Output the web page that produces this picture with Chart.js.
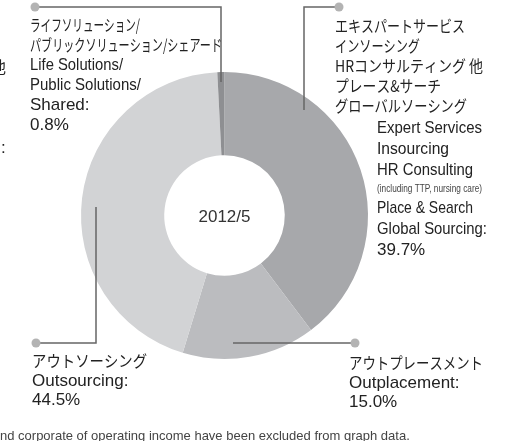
<!DOCTYPE html>
<html>
<head>
<meta charset="utf-8">
<script src="https://cdn.jsdelivr.net/npm/chart.js@4"></script>
<style>
  html, body { margin: 0; padding: 0; background: #fff; }
  #wrap { width: 506px; height: 441px; }
</style>
</head>
<body>
<div id="wrap"><canvas id="chart" width="506" height="441"></canvas></div>
<script>
// dữ liệu biểu đồ (theo chiều kim đồng hồ từ 12 giờ)
const categories = ["Expert Services", "Outplacement", "Outsourcing", "Life Solutions/Public Solutions/Shared"];
const shares = [39.7, 15.0, 44.5, 0.8];
const sliceColors = ["#a7a8ab", "#bbbcbf", "#d2d3d5", "#8e8f92"];
const centerLabel = "2012/5";

const jpExpert = ["エキスパートサービス", "インソーシング", "HRコンサルティング 他", "プレース&サーチ", "グローバルソーシング"];
const enExpert = ["Expert Services", "Insourcing", "HR Consulting", "(including TTP, nursing care)", "Place & Search", "Global Sourcing:"];
const jpLife = ["ライフソリューション/", "パブリックソリューション/シェアード"];
const enLife = ["Life Solutions/", "Public Solutions/", "Shared:"];
const jpOutsourcing = ["アウトソーシング"];
const enOutsourcing = ["Outsourcing:"];
const jpOutplacement = ["アウトプレースメント"];
const enOutplacement = ["Outplacement:"];
const footnote = "nd corporate of operating income have been excluded from graph data.";

const JP = "16px 'Noto Sans CJK JP'";
const EN = "17px 'Liberation Sans', Arial, sans-serif";
const EN_SMALL = "10px 'Liberation Sans', Arial, sans-serif";

function pct(i) {
  return shares[i].toFixed(1) + "%";
}

function txt(ctx, s, x, y, font, maxW, color) {
  ctx.font = font;
  ctx.fillStyle = color || "#222";
  ctx.textAlign = "left";
  ctx.textBaseline = "middle";
  if (maxW) ctx.fillText(s, x, y, maxW);
  else ctx.fillText(s, x, y);
}

function dot(ctx, x, y) {
  ctx.beginPath();
  ctx.arc(x, y, 4.5, 0, Math.PI * 2);
  ctx.fillStyle = "#b3b3b3";
  ctx.fill();
}

function line(ctx, pts) {
  ctx.beginPath();
  ctx.moveTo(pts[0][0], pts[0][1]);
  for (let i = 1; i < pts.length; i++) ctx.lineTo(pts[i][0], pts[i][1]);
  ctx.strokeStyle = "#666";
  ctx.lineWidth = 1.5;
  ctx.stroke();
}

// plugin vẽ đường dẫn + nhãn
const labelPlugin = {
  id: "labels",
  afterDraw(chart) {
    const ctx = chart.ctx;
    const arc = chart.getDatasetMeta(0).data[0];
    ctx.save();

    // chữ ở giữa
    ctx.font = "17px 'Liberation Sans', Arial, sans-serif";
    ctx.fillStyle = "#333";
    ctx.textAlign = "center";
    ctx.textBaseline = "middle";
    ctx.fillText(centerLabel, arc.x, arc.y + 2);

    // đường dẫn
    line(ctx, [[35, 7], [221, 7], [221, 82]]);
    line(ctx, [[339, 7], [304, 7], [304, 110]]);
    line(ctx, [[96, 207], [96, 343], [36, 343]]);
    line(ctx, [[233, 343], [355, 343]]);
    dot(ctx, 35, 7);
    dot(ctx, 339, 7);
    dot(ctx, 36, 343);
    dot(ctx, 355, 343);

    // Expert
    const jpW1 = [130, 85, 148, 106, 132];
    jpExpert.forEach((s, i) => txt(ctx, s, 335, 26 + i * 20, JP, jpW1[i]));
    const enY1 = [128, 149, 170, 189, 208, 229];
    const enW1 = [105, 72, 96, 105, 96, 110];
    enExpert.forEach((s, i) => txt(ctx, s, 377, enY1[i], i === 3 ? EN_SMALL : EN, enW1[i], i === 3 ? "#444" : null));
    txt(ctx, pct(0), 377, 250, EN);

    // Life
    const jpW2 = [110, 192];
    jpLife.forEach((s, i) => txt(ctx, s, 30, 25 + i * 20, JP, jpW2[i]));
    const enW2 = [93, 111, 60];
    enLife.forEach((s, i) => txt(ctx, s, 30, 65 + i * 20, EN, enW2[i]));
    txt(ctx, pct(3), 30, 125, EN);

    // Outsourcing
    txt(ctx, jpOutsourcing[0], 32, 361, JP, 115);
    txt(ctx, enOutsourcing[0], 32, 381, EN, 101);
    txt(ctx, pct(2), 32, 400, EN);

    // Outplacement
    txt(ctx, jpOutplacement[0], 349, 363, JP, 134);
    txt(ctx, enOutplacement[0], 349, 383, EN, 118);
    txt(ctx, pct(1), 349, 402, EN);

    // mảnh chữ bị cắt bên trái
    txt(ctx, "他", -10, 67, JP);
    txt(ctx, ":", 1, 148, EN);

    // chú thích
    txt(ctx, footnote, 0, 436, "13px 'Liberation Sans', Arial, sans-serif", 500, "#444");

    ctx.restore();
  },
};

new Chart(document.getElementById("chart"), {
  type: "doughnut",
  data: {
    labels: categories,
    datasets: [
      {
        data: shares,
        backgroundColor: sliceColors,
        borderWidth: 0,
      },
    ],
  },
  options: {
    responsive: false,
    animation: false,
    cutout: "42%",
    rotation: 0,
    layout: { padding: { left: 81, right: 138, top: 72, bottom: 82 } },
    plugins: {
      legend: { display: false },
      tooltip: { enabled: false },
    },
  },
  plugins: [labelPlugin],
});
</script>
</body>
</html>
